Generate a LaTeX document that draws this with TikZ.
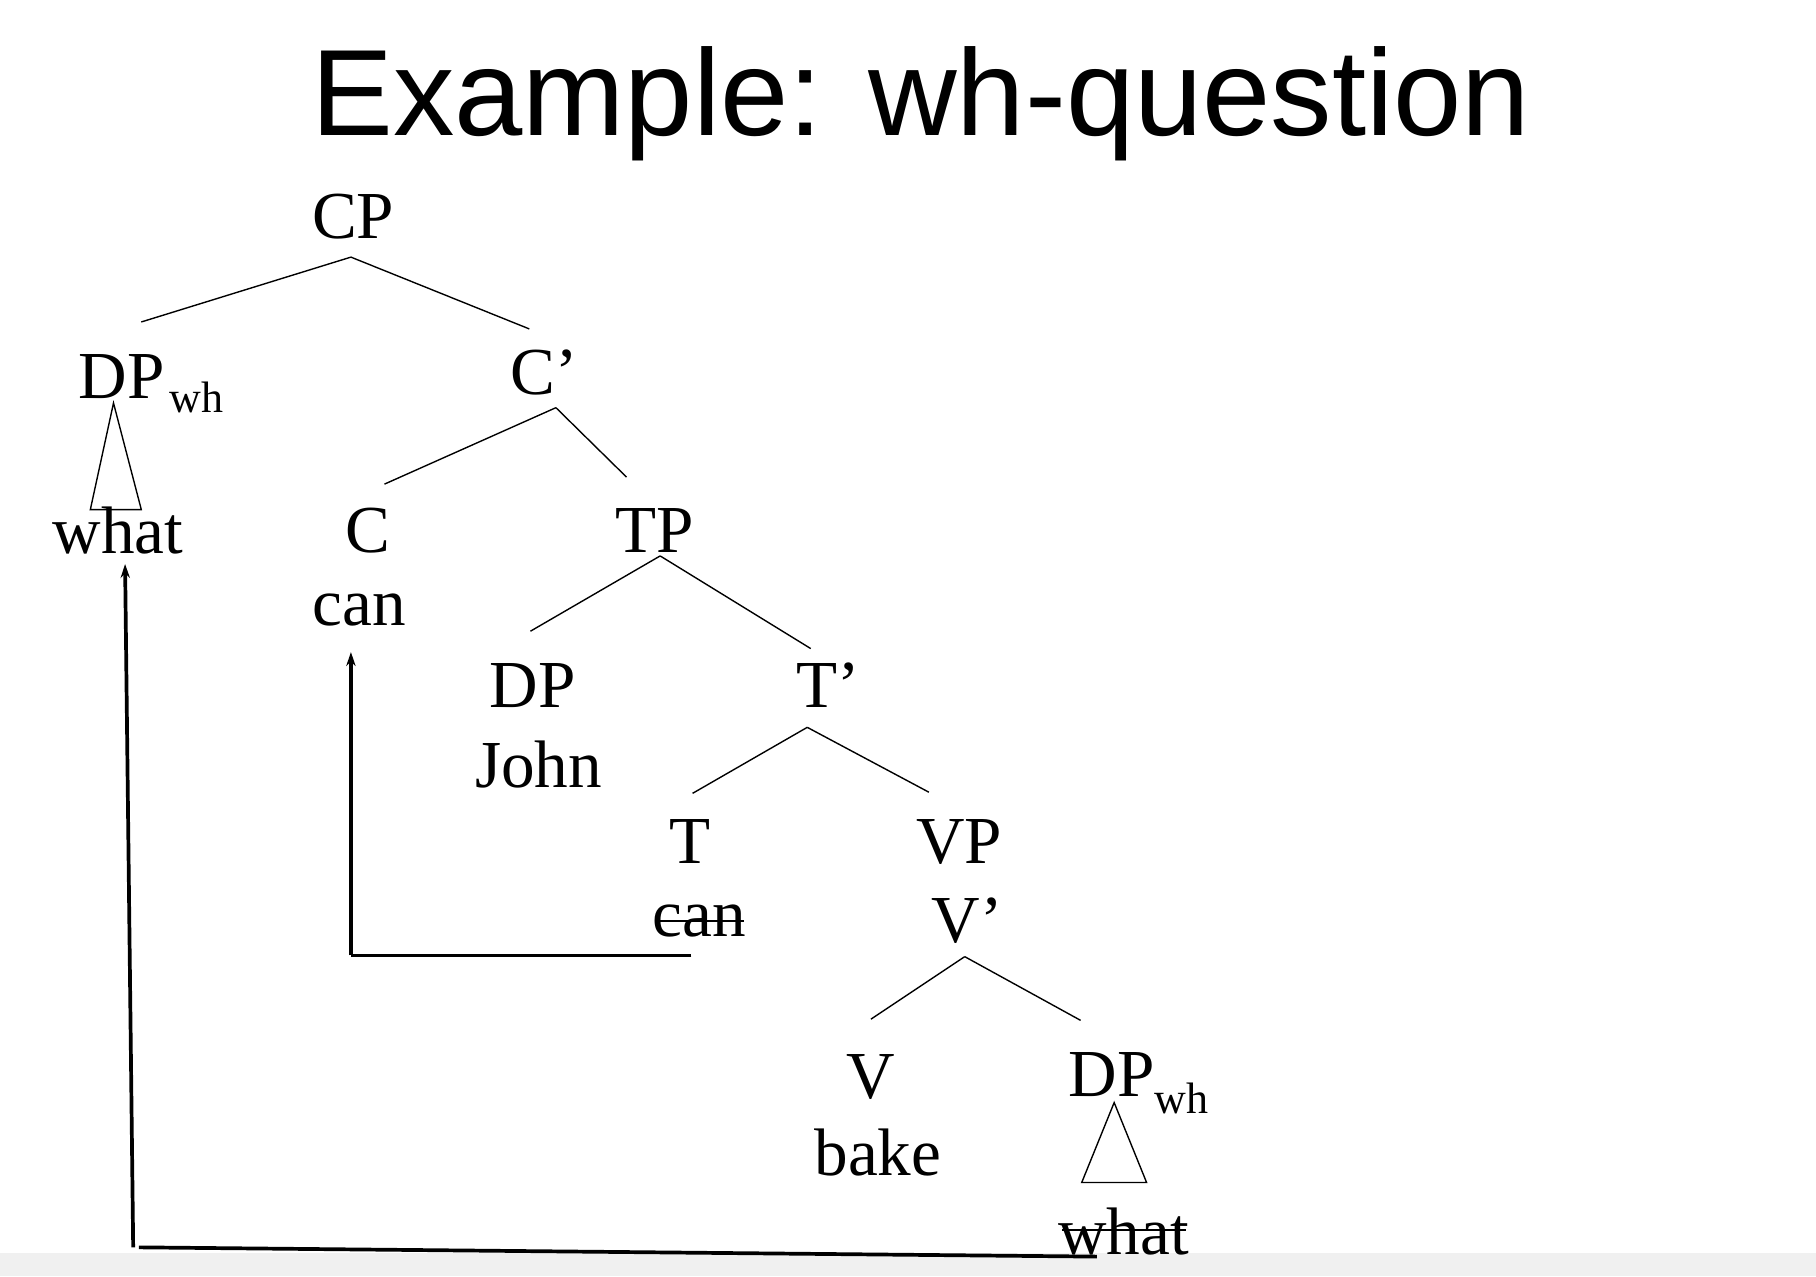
\documentclass[tikz,border=0pt]{standalone}
\usepackage{fontspec}
\usetikzlibrary{arrows.meta}
\setmainfont{Liberation Serif}
\newfontfamily\titlefont{Liberation Sans}
\begin{document}
\begin{tikzpicture}[x=0.5pt,y=-0.5pt,
  lbl/.style={inner sep=0pt,font=\fontsize{29}{30}\selectfont},
  sub/.style={inner sep=0pt,font=\fontsize{19}{20}\selectfont},
  br/.style={line width=0.6pt},
  mv/.style={line width=1.6pt},
  tip/.style={-{Stealth[length=6pt,width=4pt]}}]
\useasboundingbox (0,0) rectangle (1568,1102);
\fill[black!6] (0,1082) rectangle (1568,1102);
\node[inner sep=0pt,font=\titlefont\fontsize{53}{56}\selectfont] (title) at (795,90) {Example: wh-question};
\node[lbl] (cp) at (305,187) {CP};
\node[lbl] (dp1) at (105,325) {DP};
\node[sub] (wh1) at (170,343) {wh};
\node[lbl] (what1) at (102,458) {what};
\node[lbl] (cbar) at (470,322) {C’};
\node[lbl] (c) at (318,458) {C};
\node[lbl] (can1) at (310,527) {can};
\node[lbl] (tp) at (565,458) {TP};
\node[lbl] (dp2) at (460,592) {DP};
\node[lbl] (john) at (465,660) {John};
\node[lbl] (tbar) at (715,592) {T’};
\node[lbl] (t) at (596,727) {T};
\node[lbl] (can2) at (604,795) {can};
\node[lbl] (vp) at (828,727) {VP};
\node[lbl] (vbar) at (835,795) {V’};
\node[lbl] (v) at (752,930) {V};
\node[lbl] (bake) at (758,995) {bake};
\node[lbl] (dp3) at (960,928) {DP};
\node[sub] (wh3) at (1020,948) {wh};
\node[lbl] (what2) at (970,1063) {what};
% strike-throughs
\draw[br,line width=1pt] (566,795) -- (642,795);
\draw[br,line width=1pt] (917,1062) -- (1024,1062);
% branches
\draw[br] (303,222) -- (122,278);
\draw[br] (303,222) -- (457,284);
\draw[br] (480,352) -- (332,418);
\draw[br] (480,352) -- (541,412);
\draw[br] (570,480) -- (458,545);
\draw[br] (570,480) -- (700,560);
\draw[br] (697,628) -- (598,685);
\draw[br] (697,628) -- (802,684);
\draw[br] (833,826) -- (752,880);
\draw[br] (833,826) -- (933,881);
% triangles
\draw[br] (98,348) -- (78,440) -- (122,440) -- cycle;
\draw[br] (962,952) -- (934,1021) -- (990,1021) -- cycle;
% movement arrows
\draw[mv] (597,825) -- (303,825);
\draw[mv,tip] (303,825) -- (303,563);
\draw[mv] (947,1085) -- (120,1077);
\draw[mv,tip] (115,1077) -- (108,487);
\end{tikzpicture}
\end{document}
